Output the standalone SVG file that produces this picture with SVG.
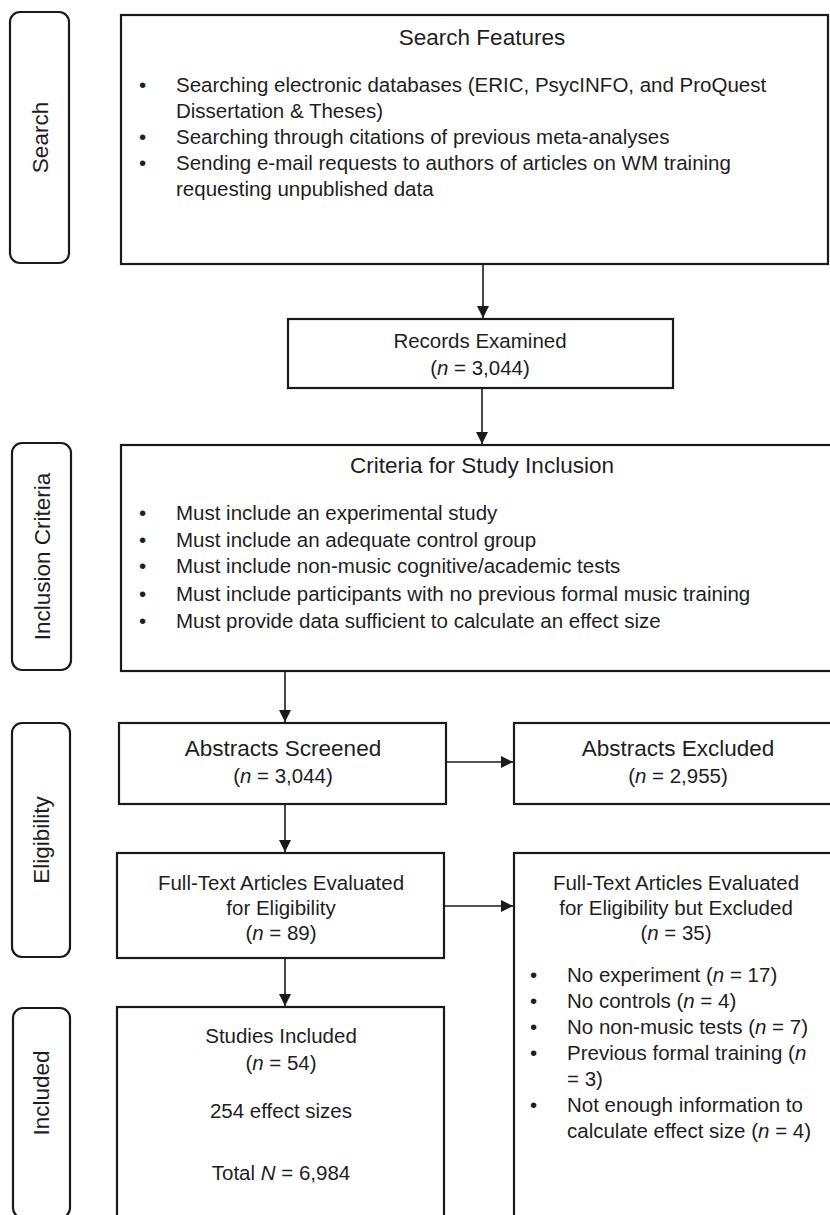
<svg xmlns="http://www.w3.org/2000/svg" width="830" height="1215" viewBox="0 0 830 1215">
<style>
.box{fill:#fff;stroke:#1a1a1a;stroke-width:2.2}
.lab{fill:#fff;stroke:#1a1a1a;stroke-width:2.2}
text{font-family:"Liberation Sans",Arial,sans-serif;fill:#1e1e1e}
.h{font-size:22.5px}
.t{font-size:20.5px}
.c{text-anchor:middle}
.conn line{stroke:#1a1a1a;stroke-width:1.6}
i{font-style:italic}
</style>
<defs>
<marker id="ah" viewBox="0 0 12 12" refX="12" refY="6" markerWidth="12" markerHeight="12" markerUnits="userSpaceOnUse" orient="auto">
<path d="M0,0 L12,6 L0,12 Z" fill="#1a1a1a"/>
</marker>
</defs>
<rect width="830" height="1215" fill="#fff"/>

<g id="label-search">
<rect class="lab" x="10" y="12" width="59" height="251" rx="10"/>
<text class="h c" transform="translate(48,137.5) rotate(-90)">Search</text>
</g>
<g id="label-inclusion">
<rect class="lab" x="12" y="443" width="59" height="227" rx="10"/>
<text class="h c" transform="translate(50,556.5) rotate(-90)">Inclusion Criteria</text>
</g>
<g id="label-eligibility">
<rect class="lab" x="12" y="723" width="58" height="234" rx="10"/>
<text class="h c" transform="translate(49,840) rotate(-90)">Eligibility</text>
</g>
<g id="label-included">
<rect class="lab" x="13" y="1008" width="57" height="210" rx="10"/>
<text class="h c" transform="translate(49,1093) rotate(-90)">Included</text>
</g>

<g id="search-features">
<rect class="box" x="121" y="15" width="707" height="249"/>
<text class="h c" x="482" y="45">Search Features</text>
<g class="t">
<text class="t" x="139" y="92">•</text>
<text class="t" x="176" y="92">Searching electronic databases (ERIC, PsycINFO, and ProQuest</text>
<text class="t" x="176" y="118">Dissertation &amp; Theses)</text>
<text class="t" x="139" y="144">•</text>
<text class="t" x="176" y="144">Searching through citations of previous meta-analyses</text>
<text class="t" x="139" y="170">•</text>
<text class="t" x="176" y="170">Sending e-mail requests to authors of articles on WM training</text>
<text class="t" x="176" y="196">requesting unpublished data</text>
</g>
</g>

<g id="records-examined">
<rect class="box" x="288" y="319" width="385" height="69"/>
<text class="t c" x="480" y="348">Records Examined</text>
<text class="t c" x="480" y="375">(<tspan font-style="italic">n</tspan> = 3,044)</text>
</g>

<g id="criteria">
<rect class="box" x="121" y="445" width="712" height="226"/>
<text class="h c" x="482" y="473">Criteria for Study Inclusion</text>
<text class="t" x="139" y="520">•</text>
<text class="t" x="176" y="520">Must include an experimental study</text>
<text class="t" x="139" y="547">•</text>
<text class="t" x="176" y="547">Must include an adequate control group</text>
<text class="t" x="139" y="573">•</text>
<text class="t" x="176" y="573">Must include non-music cognitive/academic tests</text>
<text class="t" x="139" y="601">•</text>
<text class="t" x="176" y="601">Must include participants with no previous formal music training</text>
<text class="t" x="139" y="628">•</text>
<text class="t" x="176" y="628">Must provide data sufficient to calculate an effect size</text>
</g>

<g id="abstracts-screened">
<rect class="box" x="119" y="723" width="327" height="81"/>
<text class="h c" x="283" y="756">Abstracts Screened</text>
<text class="t c" x="283" y="783">(<tspan font-style="italic">n</tspan> = 3,044)</text>
</g>

<g id="abstracts-excluded">
<rect class="box" x="514" y="723" width="319" height="81"/>
<text class="h c" x="678" y="756">Abstracts Excluded</text>
<text class="t c" x="678" y="783">(<tspan font-style="italic">n</tspan> = 2,955)</text>
</g>

<g id="fulltext-evaluated">
<rect class="box" x="117" y="853" width="327" height="105"/>
<text class="t c" x="281" y="890">Full-Text Articles Evaluated</text>
<text class="t c" x="281" y="915">for Eligibility</text>
<text class="t c" x="281" y="940">(<tspan font-style="italic">n</tspan> = 89)</text>
</g>

<g id="fulltext-excluded">
<rect class="box" x="514" y="853" width="320" height="370"/>
<text class="t c" x="676" y="890">Full-Text Articles Evaluated</text>
<text class="t c" x="676" y="915">for Eligibility but Excluded</text>
<text class="t c" x="676" y="940">(<tspan font-style="italic">n</tspan> = 35)</text>
<text class="t" x="530" y="982">•</text>
<text class="t" x="567" y="982">No experiment (<tspan font-style="italic">n</tspan> = 17)</text>
<text class="t" x="530" y="1008">•</text>
<text class="t" x="567" y="1008">No controls (<tspan font-style="italic">n</tspan> = 4)</text>
<text class="t" x="530" y="1034">•</text>
<text class="t" x="567" y="1034">No non-music tests (<tspan font-style="italic">n</tspan> = 7)</text>
<text class="t" x="530" y="1060">•</text>
<text class="t" x="567" y="1060">Previous formal training (<tspan font-style="italic">n</tspan></text>
<text class="t" x="567" y="1086">= 3)</text>
<text class="t" x="530" y="1112">•</text>
<text class="t" x="567" y="1112">Not enough information to</text>
<text class="t" x="567" y="1138">calculate effect size (<tspan font-style="italic">n</tspan> = 4)</text>
</g>

<g id="studies-included">
<rect class="box" x="117" y="1007" width="327" height="215"/>
<text class="t c" x="281" y="1043">Studies Included</text>
<text class="t c" x="281" y="1070">(<tspan font-style="italic">n</tspan> = 54)</text>
<text class="t c" x="281" y="1118">254 effect sizes</text>
<text class="t c" x="281" y="1180">Total <tspan font-style="italic">N</tspan> = 6,984</text>
</g>

<g id="connectors" class="conn">
<line x1="483" y1="265" x2="483" y2="318" marker-end="url(#ah)"/>
<line x1="482" y1="389" x2="482" y2="444" marker-end="url(#ah)"/>
<line x1="285" y1="672" x2="285" y2="722" marker-end="url(#ah)"/>
<line x1="446" y1="762" x2="513" y2="762" marker-end="url(#ah)"/>
<line x1="285" y1="805" x2="285" y2="852" marker-end="url(#ah)"/>
<line x1="444" y1="906" x2="513" y2="906" marker-end="url(#ah)"/>
<line x1="285" y1="959" x2="285" y2="1006" marker-end="url(#ah)"/>
</g>
</svg>
